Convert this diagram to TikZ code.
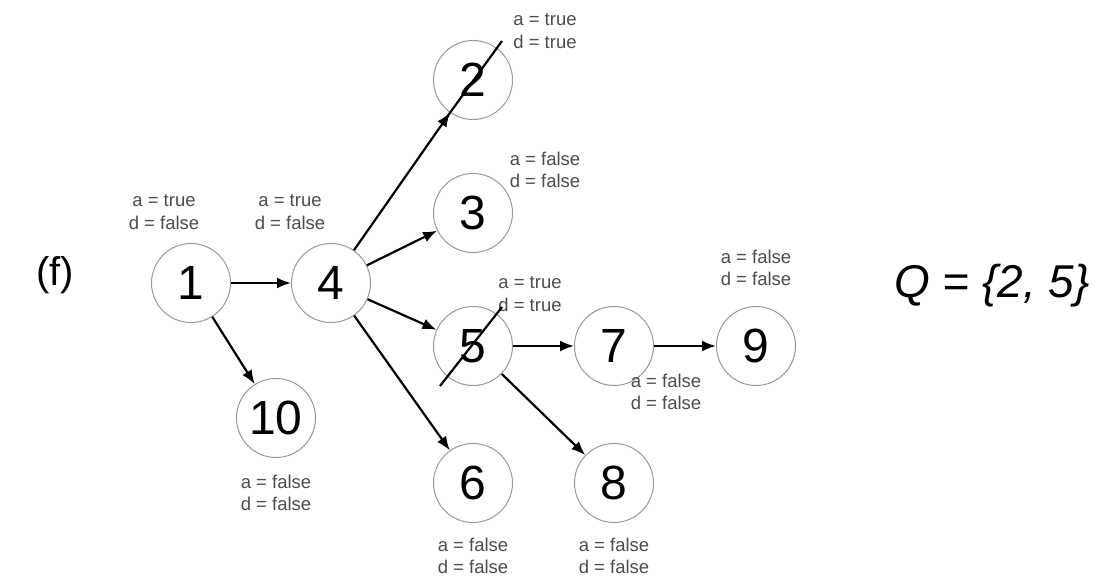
\documentclass[tikz,border=0pt]{standalone}
\usepackage{fontspec}
\setmainfont{Liberation Sans}
\usetikzlibrary{arrows.meta}

\begin{document}
\begin{tikzpicture}[x=10pt, y=-10pt,
        vertex/.style={circle, draw=black!40, line width=1pt, minimum size=79pt,
            inner sep=0pt, font=\fontsize{48}{48}\selectfont},
        flags/.style={align=center, text=black!70, font=\fontsize{18.5}{22.5}\selectfont},
        edge/.style={line width=2.2pt, -{Latex[length=14pt, width=11pt]}},
        strike/.style={line width=2.2pt}]
    \useasboundingbox (0, 0) rectangle (110.8, 58);
    \node (f) at (5.5, 27.5) {\fontsize{40}{40}\selectfont (f)};
    % vertices
    \node[vertex] (n1) at (19.1, 28.3) {1};
    \node[vertex] (n4) at (33.1, 28.3) {4};
    \node[vertex] (n2) at (47.3, 8.0) {2};
    \node[vertex] (n3) at (47.3, 21.3) {3};
    \node[vertex] (n5) at (47.3, 34.6) {5};
    \node[vertex] (n6) at (47.3, 48.3) {6};
    \node[vertex] (n10) at (27.6, 41.8) {10};
    \node[vertex] (n7) at (61.4, 34.6) {7};
    \node[vertex] (n8) at (61.4, 48.3) {8};
    \node[vertex] (n9) at (75.6, 34.6) {9};
    % flags
    \node[flags] (f1) at (16.4, 21.2) {a = true\\d = false};
    \node[flags] (f4) at (29.0, 21.2) {a = true\\d = false};
    \node[flags] (f2) at (54.5, 3.1) {a = true\\d = true};
    \node[flags] (f3) at (54.5, 17.0) {a = false\\d = false};
    \node[flags] (f5) at (53.0, 29.4) {a = true\\d = true};
    \node[flags] (f9) at (75.6, 26.8) {a = false\\d = false};
    \node[flags] (f7) at (66.6, 39.2) {a = false\\d = false};
    \node[flags] (f10) at (27.6, 49.3) {a = false\\d = false};
    \node[flags] (f6) at (47.3, 55.6) {a = false\\d = false};
    \node[flags] (f8) at (61.4, 55.6) {a = false\\d = false};
    % edges
    \draw[edge] (n1) -- (n4);
    \draw[edge] (n1) -- (n10);
    \draw[edge] (n4) -- (n2);
    \draw[edge] (n4) -- (n3);
    \draw[edge] (n4) -- (n5);
    \draw[edge] (n4) -- (n6);
    \draw[edge] (n5) -- (n7);
    \draw[edge] (n5) -- (n8);
    \draw[edge] (n7) -- (n9);
    % removed from Q
    \draw[strike] (44.4, 12.1) -- (50.2, 4.1);
    \draw[strike] (44.0, 38.6) -- (50.2, 30.7);
    \node (q) at (99.2, 28.6) {\fontsize{46}{46}\selectfont\itshape Q = \{2, 5\}};
\end{tikzpicture}
\end{document}
